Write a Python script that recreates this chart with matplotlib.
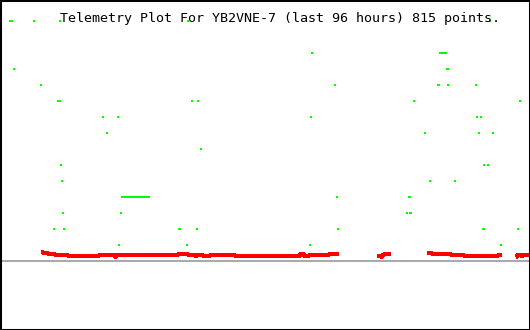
import numpy as np
import matplotlib
matplotlib.use("Agg")
import matplotlib.pyplot as plt

TITLE = "Telemetry Plot For YB2VNE-7 (last 96 hours) 815 points."

# ── green series: time (hours) and quantized level ───────────────────────────
green_t = [
    1.90, 2.26, 6.16, 10.78, 34.14, 88.75,                                  # 15
    56.51, 79.70, 79.88, 80.06, 80.24, 80.42, 80.60, 80.78,                 # 13
    2.54, 80.97, 81.15,                                                     # 12
    7.43, 60.68, 79.34, 79.52, 81.15, 86.22,                                # 11
    10.51, 10.87, 34.78, 35.86, 74.99, 94.19,                               # 10
    18.66, 21.37, 56.33, 86.40, 87.12,                                      # 9
    19.38, 76.98, 86.76, 89.30,                                             # 8
    36.41,                                                                  # 7
    11.05, 87.67, 88.39,                                                    # 6
    11.23, 77.89, 82.42,                                                    # 5
    22.10, 22.28, 22.46, 22.64, 22.82, 23.00, 23.18, 23.37, 23.55, 23.73,
    23.91, 24.09, 24.27, 24.45, 24.63, 24.82, 25.00, 25.18, 25.36, 25.54,
    25.72, 25.90, 26.08, 26.26, 26.45, 26.63, 26.81, 26.99,
    61.04, 74.08, 74.26,                                                    # 4
    11.41, 21.92, 73.72, 74.26, 74.45,                                      # 3
    9.78, 11.59, 32.42, 32.60, 35.68, 61.22, 87.49, 87.67, 93.83,           # 2
    21.55, 33.87, 56.15, 90.75,                                             # 1
]
green_v = (
    [15] * 6 + [13] * 8 + [12] * 3 + [11] * 6 + [10] * 6 + [9] * 5 +
    [8] * 4 + [7] * 1 + [6] * 3 + [5] * 3 + [4] * 31 + [3] * 5 +
    [2] * 9 + [1] * 4
)

# ── red series: step breakpoints (hours), NaN = no data ──────────────────────
red_t = [7.43, 7.79, 8.69, 9.96, 12.32, 17.93, 20.83, 21.01, 32.24, 34.05,
         35.32, 35.68, 36.77, 38.04, 42.57, 54.34, 55.06, 55.97, 59.59, 61.40,
         61.41,
         68.29, 69.01, 69.19, 69.55, 70.82,
         70.83,
         77.34, 78.25, 81.69, 84.05, 90.20, 90.93,
         90.94,
         93.46, 93.65, 94.37, 94.73, 95.82]
red_v = [0.56, 0.50, 0.44, 0.37, 0.31, 0.37, 0.25, 0.37, 0.44, 0.37,
         0.27, 0.37, 0.31, 0.37, 0.31, 0.40, 0.31, 0.37, 0.44, 0.44,
         np.nan,
         0.31, 0.25, 0.34, 0.44, 0.44,
         np.nan,
         0.50, 0.44, 0.37, 0.31, 0.37, 0.37,
         np.nan,
         0.25, 0.37, 0.27, 0.37, 0.37]

# ── figure ───────────────────────────────────────────────────────────────────
fig = plt.figure(figsize=(5.30, 3.30), dpi=100)
ax = fig.add_axes([0, 0, 1, 1])
ax.set_facecolor("white")

ax.axhline(0, color="#aaaaaa", lw=1.44, antialiased=False, zorder=1)

ax.plot(red_t, red_v, color="#ff0000", lw=1.5, drawstyle="steps-post",
        solid_capstyle="butt", antialiased=False, zorder=2)

rect = [(-0.5, -1), (0.5, -1), (0.5, 1), (-0.5, 1), (-0.5, -1)]
ax.plot(green_t, green_v, ls="none", marker=rect, markersize=1.6,
        markerfacecolor="#00ff00", markeredgewidth=0, antialiased=False,
        zorder=3)

ax.set_xlim(0, 96)
ax.set_ylim(-4.33, 16.29)
ax.set_xticks([])
ax.set_yticks([])
for s in ax.spines.values():
    s.set_color("black")
    s.set_linewidth(2.2)

fig.text(60 / 530, 1 - 22.3 / 330, TITLE, family="DejaVu Sans Mono",
         fontsize=9.6, color="black", ha="left", va="baseline")

fig.savefig("out.png", dpi=100)
